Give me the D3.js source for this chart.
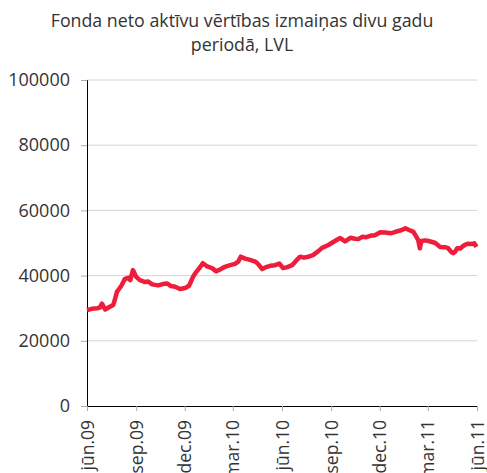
<!DOCTYPE html>
<html>
<head>
<meta charset="utf-8">
<script src="https://cdn.jsdelivr.net/npm/d3@7"></script>
<style>
  body { margin: 0; background: #fff; }
  text { font-family: 'Open Sans', sans-serif; fill: #333; }
</style>
</head>
<body>
<svg id="chart" width="487" height="473"></svg>
<script>
// dates and fund net asset value (LVL)
const dates = [
  '2009-06-01','2009-06-10','2009-06-20','2009-06-25','2009-06-29','2009-07-05','2009-07-12','2009-07-20',
  '2009-07-23','2009-07-27','2009-08-04','2009-08-11','2009-08-17','2009-08-21','2009-08-26','2009-09-01',
  '2009-09-08','2009-09-18','2009-09-23','2009-10-01','2009-10-12','2009-10-21','2009-10-29','2009-11-05',
  '2009-11-13','2009-11-22','2009-12-02','2009-12-09','2009-12-17','2009-12-22','2009-12-30','2010-01-04',
  '2010-01-12','2010-01-21','2010-01-29','2010-02-05','2010-02-14','2010-02-24','2010-03-05','2010-03-11',
  '2010-03-16','2010-03-24','2010-04-02','2010-04-12','2010-04-17','2010-04-25','2010-05-02','2010-05-10',
  '2010-05-19','2010-05-27','2010-06-03','2010-06-11','2010-06-20','2010-06-27','2010-07-05','2010-07-12',
  '2010-07-18','2010-07-29','2010-08-08','2010-08-15','2010-08-26','2010-09-05','2010-09-12','2010-09-18',
  '2010-09-27','2010-10-07','2010-10-16','2010-10-22','2010-10-29','2010-11-06','2010-11-13','2010-11-22',
  '2010-12-02','2010-12-11','2010-12-21','2010-12-26','2011-01-03','2011-01-10','2011-01-18','2011-01-25',
  '2011-02-02','2011-02-07','2011-02-11','2011-02-14','2011-02-17','2011-02-24','2011-03-02','2011-03-09',
  '2011-03-15','2011-03-24','2011-04-03','2011-04-08','2011-04-14','2011-04-18','2011-04-21','2011-04-25',
  '2011-05-01','2011-05-04','2011-05-10','2011-05-16','2011-05-23','2011-05-27','2011-05-31'
];
const values = [
  29400,29800,30000,30200,31400,29600,30300,31000,
  32500,35000,36800,39000,39300,38600,41700,39600,
  38600,38000,38200,37300,37000,37400,37600,36800,
  36600,35900,36200,36900,39800,41000,42700,43800,
  42800,42300,41300,41900,42700,43200,43600,44300,
  45800,45200,44800,44300,43600,42000,42600,43000,
  43200,43700,42300,42600,43200,44500,45800,45500,
  45700,46300,47500,48500,49300,50300,51000,51500,
  50500,51600,51300,51200,51900,51800,52200,52400,
  53300,53200,53000,53200,53600,53900,54500,54000,
  53400,52000,50900,48400,50600,50800,50600,50300,
  50000,48800,48700,48400,47200,46900,47300,48400,
  48300,48800,49500,49800,49700,49900,48800
];
const yTicks = [0, 20000, 40000, 60000, 80000, 100000];
const xTickDates = ['2009-06-01','2009-09-01','2009-12-01','2010-03-01','2010-06-01',
                    '2010-09-01','2010-12-01','2011-03-01','2011-06-01'];
const monthNames = ['jan','feb','mar','apr','mai','jūn','jūl','aug','sep','okt','nov','dec'];
const titleLines = ['Fonda neto aktīvu vērtības izmaiņas divu gadu', 'periodā, LVL'];

const parseDate = d3.timeParse('%Y-%m-%d');
const data = dates.map((d, i) => ({date: parseDate(d), value: values[i]}));

const margin = {left: 87, right: 10, top: 80, bottom: 67};
const width = 487, height = 473;
const svg = d3.select('#chart');

const x = d3.scaleTime()
    .domain([parseDate(xTickDates[0]), parseDate(xTickDates[xTickDates.length - 1])])
    .range([margin.left, width - margin.right]);
const y = d3.scaleLinear()
    .domain([0, 100000])
    .range([height - margin.bottom, margin.top]);

// title
svg.append('g').selectAll('text')
    .data(titleLines)
    .enter()
    .append('text')
    .attr('x', 242)
    .attr('y', (d, i) => 27 + i * 24)
    .attr('text-anchor', 'middle')
    .style('font-size', '17.8px')
    .text(d => d);

// gridlines
svg.append('g').selectAll('line')
    .data(yTicks.filter(d => d > 0))
    .enter()
    .append('line')
    .attr('x1', margin.left)
    .attr('x2', width - margin.right)
    .attr('y1', d => y(d))
    .attr('y2', d => y(d))
    .attr('stroke', '#d4d4d4')
    .attr('stroke-width', 1);

// y axis
const yAxis = svg.append('g')
    .attr('transform', `translate(${margin.left},0)`)
    .call(d3.axisLeft(y).tickValues(yTicks).tickSize(6).tickPadding(11).tickFormat(d3.format('d')));
yAxis.select('.domain').attr('stroke', '#000');
yAxis.selectAll('.tick line').attr('stroke', '#aaa');
yAxis.selectAll('.tick text').style('font-size', '18px').attr('fill', '#333').style('font-family', "'Open Sans', sans-serif");

// x axis
const xAxis = svg.append('g')
    .attr('transform', `translate(0,${height - margin.bottom})`)
    .call(d3.axisBottom(x)
        .tickValues(xTickDates.map(parseDate))
        .tickSize(5)
        .tickSizeOuter(0)
        .tickFormat(d => monthNames[d.getMonth()] + '.' + d3.timeFormat('%y')(d)));
xAxis.select('.domain').attr('stroke', '#000');
xAxis.selectAll('.tick line').attr('stroke', '#aaa');
xAxis.selectAll('.tick text')
    .style('font-size', '17.5px')
    .attr('fill', '#333')
    .style('font-family', "'Open Sans', sans-serif")
    .attr('text-anchor', 'end')
    .attr('dy', '0.35em')
    .attr('transform', 'rotate(-90)')
    .attr('x', -14)
    .attr('y', 0);

// line
const line = d3.line()
    .x(d => x(d.date))
    .y(d => y(d.value));
svg.append('path')
    .datum(data)
    .attr('fill', 'none')
    .attr('stroke', '#ee1d3b')
    .attr('stroke-width', 4.5)
    .attr('stroke-linejoin', 'round')
    .attr('d', line);
</script>
</body>
</html>
